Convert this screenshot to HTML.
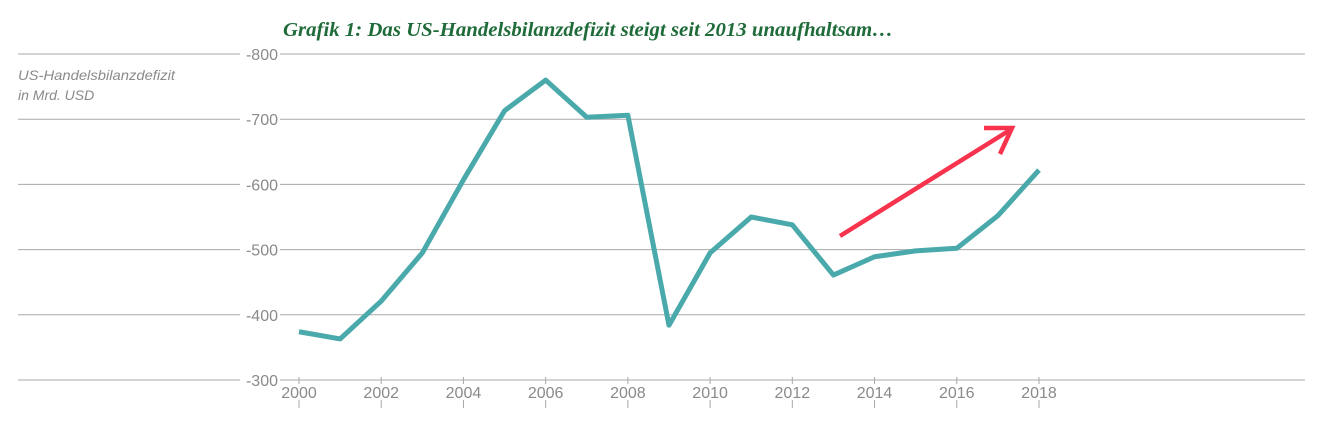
<!DOCTYPE html>
<html><head><meta charset="utf-8"><style>
body{margin:0;background:#fff;width:1321px;height:429px;overflow:hidden;font-family:"Liberation Sans",sans-serif}
</style></head><body>
<svg width="1321" height="429" xmlns="http://www.w3.org/2000/svg">
<text x="588" y="36" text-anchor="middle" font-family="Liberation Serif" font-style="italic" font-weight="bold" font-size="20" fill="#1f6b3a" textLength="610" lengthAdjust="spacingAndGlyphs">Grafik 1: Das US-Handelsbilanzdefizit steigt seit 2013 unaufhaltsam…</text>
<text x="18" y="80" font-style="italic" font-size="14" fill="#8a8a8a" textLength="157" lengthAdjust="spacingAndGlyphs">US-Handelsbilanzdefizit</text>
<text x="18" y="100" font-style="italic" font-size="14" fill="#8a8a8a">in Mrd. USD</text>
<g id="grid"></g><g id="xaxis"></g>
<path id="line" fill="none" stroke="#4aa9ab" stroke-width="5" stroke-linejoin="round"/>
<g stroke="#f7334d" stroke-width="4.5" fill="none" stroke-linecap="butt">
<line x1="840" y1="236" x2="1010" y2="130"/>
<polyline points="984,128 1012,128 1000,154"/>
</g>
</svg>
<script>
const years=[2000,2001,2002,2003,2004,2005,2006,2007,2008,2009,2010,2011,2012,2013,2014,2015,2016,2017,2018];
const values=[374,363,421,495,607,713,760,703,706,384,495,550,538,461,489,498,502,552,622];
const yTicks=[800,700,600,500,400,300];
const xTickLabels=[2000,2002,2004,2006,2008,2010,2012,2014,2016,2018];
const NS="http://www.w3.org/2000/svg";
const yS=v=>380-(v-300)*0.652;
const xS=y=>299+(y-2000)*41.11;
const grid=document.getElementById('grid'),xa=document.getElementById('xaxis');
function mk(t,a,p){const e=document.createElementNS(NS,t);for(const k in a)e.setAttribute(k,a[k]);p.appendChild(e);return e;}
yTicks.forEach(v=>{
 const l=mk('line',{x1:18,x2:1305,y1:yS(v),y2:yS(v),stroke:'#a8a8a8','stroke-width':1},grid);
 
 
 mk('rect',{x:240,y:yS(v)-8,width:40,height:16,fill:'#fff'},grid);
 const t=mk('text',{x:278,y:yS(v)+6,'text-anchor':'end','font-size':16,fill:'#8a8a8a'},grid);
 t.textContent='-'+v;
 
 
});
xTickLabels.forEach(y=>{
 const x=xS(y);
 mk('line',{x1:x,x2:x,y1:377,y2:384,stroke:'#a8a8a8'},xa);
 mk('line',{x1:x,x2:x,y1:400,y2:408,stroke:'#a8a8a8'},xa);
 const t=mk('text',{x:x,y:398,'text-anchor':'middle','font-size':16,fill:'#8a8a8a'},xa);
 t.textContent=y;
 
 
});
document.getElementById('line').setAttribute('d',years.map((y,i)=>(i?'L':'M')+xS(y)+','+yS(values[i])).join(''));
</script>
</body></html>
